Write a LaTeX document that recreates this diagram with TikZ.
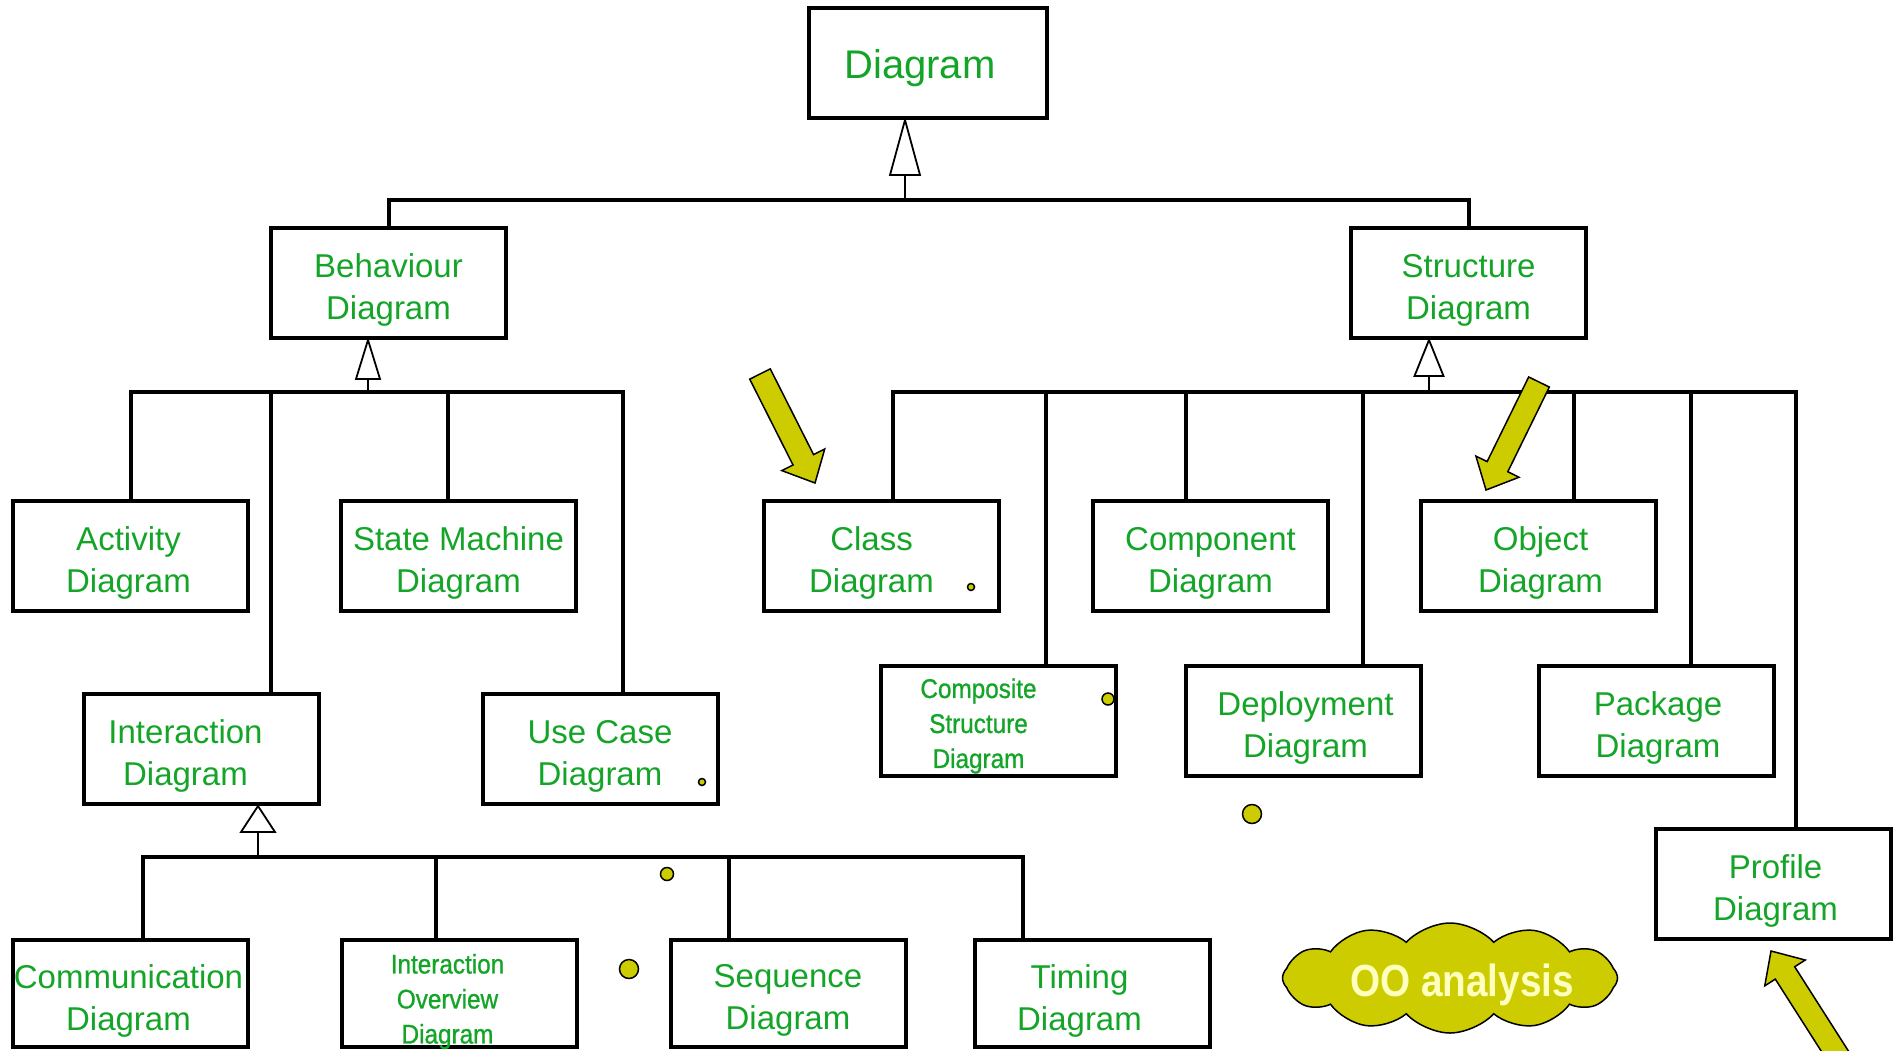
\documentclass[tikz,border=0pt]{standalone}
\usepackage{fontspec}
\setmainfont{Liberation Sans}
\newfontfamily\narrowfont[FakeStretch=0.9,FakeBold=1]{Liberation Sans}
\newfontfamily\cloudfont[FakeStretch=0.86]{Liberation Sans}
\usetikzlibrary{calc,shapes.symbols}
\definecolor{ylw}{RGB}{204,204,0}
\definecolor{txtg}{RGB}{20,165,40}
\definecolor{cloudtxt}{RGB}{255,255,190}
\newcommand{\blockarrow}[1]{%
  \coordinate (#1H) at ($(#1p)!26pt!(#1t)$);
  \draw[blk] ($(#1t)!11.5pt!90:(#1p)$) -- ($(#1H)!11.5pt!90:(#1p)$) -- ($(#1H)!24pt!90:(#1p)$) -- (#1p)
    -- ($(#1H)!24pt!-90:(#1p)$) -- ($(#1H)!11.5pt!-90:(#1p)$) -- ($(#1t)!11.5pt!-90:(#1p)$) -- cycle;}
\begin{document}
\begin{tikzpicture}[x=1pt,y=-1pt,
  box/.style={draw=black, line width=4pt, minimum width=235pt, minimum height=110pt, inner sep=0pt},
  lowbox/.style={box, minimum height=107pt},
  boxtext/.style={align=center, text=txtg, inner sep=0pt, font=\fontsize{33}{42}\selectfont, yshift=-7pt},
  narrowtext/.style={align=center, text=txtg, inner sep=0pt, font=\narrowfont\fontsize{27}{35}\selectfont, yshift=-5pt},
  conn/.style={line width=4pt, line join=miter},
  stem/.style={line width=2.5pt},
  gen/.style={draw=black, fill=white, line width=1.8pt, line join=miter},
  dot/.style={fill=ylw, draw=black, line width=1.5pt},
  blk/.style={fill=ylw, draw=black, line width=1.5pt, line join=miter}]
\useasboundingbox (0,0) rectangle (1898,1050);
\clip (0,0) rectangle (1898,1050);

% ---------- nodes ----------
\node[box, minimum width=238pt, label={[boxtext, font=\fontsize{40}{48}\selectfont, xshift=-8pt, yshift=2pt]center:Diagram}] (diag) at (928,63) {};
\node[box, label={[boxtext]center:Behaviour\\Diagram}] (beh) at (388.5,283) {};
\node[box, label={[boxtext]center:Structure\\Diagram}] (str) at (1468.5,283) {};

\node[box, label={[boxtext, xshift=-2pt]center:Activity\\Diagram}] (act) at (130.5,556) {};
\node[box, label={[boxtext]center:State Machine\\Diagram}] (sm)  at (458.5,556) {};
\node[box, label={[boxtext, xshift=-16pt]center:Interaction\\Diagram}] (inter) at (201.5,749) {};
\node[box, label={[boxtext]center:Use Case\\Diagram}] (uc) at (600,749) {};

\node[box, label={[boxtext, xshift=-10pt]center:Class\\Diagram}] (cls)  at (881.5,556) {};
\node[box, label={[boxtext]center:Component\\Diagram}] (comp) at (1210.5,556) {};
\node[box, label={[boxtext, xshift=2pt]center:Object\\Diagram}] (obj)  at (1538.5,556) {};
\node[box, label={[narrowtext, xshift=-20pt]center:Composite\\Structure\\Diagram}] (cs) at (998.5,721) {};
\node[box, label={[boxtext, xshift=2pt]center:Deployment\\Diagram}] (dep) at (1303.5,721) {};
\node[box, label={[boxtext, xshift=2pt]center:Package\\Diagram}] (pkg) at (1656,721) {};
\node[box, label={[boxtext, xshift=2pt]center:Profile\\Diagram}] (prof) at (1773.5,884) {};

\node[lowbox, label={[boxtext, xshift=-2pt]center:Communication\\Diagram}] (comm) at (130.5,993.5) {};
\node[lowbox, label={[narrowtext, xshift=-12pt, yshift=-3pt]center:Interaction\\Overview\\Diagram}] (io) at (459.5,993.5) {};
\node[lowbox, label={[boxtext]center:Sequence\\Diagram}] (seq) at (788,993.5) {};
\node[lowbox, label={[boxtext, xshift=-13pt]center:Timing\\Diagram}] (tim) at (1092.5,993.5) {};

% ---------- bus coordinates ----------
\coordinate (topbus) at (0,200);
\coordinate (bb) at (0,392);
\coordinate (sb) at (0,392);
\coordinate (ib) at (0,857);
\coordinate (tD) at (905,0);
\coordinate (tB) at (368,0);
\coordinate (tS) at (1429,0);
\coordinate (tI) at (258,0);
\coordinate (dInter) at (271,0);
\coordinate (dSm) at (448,0);
\coordinate (dUc) at (623,0);
\coordinate (dCls) at (893,0);
\coordinate (dCs) at (1046,0);
\coordinate (dComp) at (1186,0);
\coordinate (dDep) at (1363,0);
\coordinate (dObj) at (1574,0);
\coordinate (dPkg) at (1691,0);
\coordinate (dProf) at (1796,0);
\coordinate (dComm) at (143,0);
\coordinate (dIo) at (436,0);
\coordinate (dSeq) at (729,0);
\coordinate (dTim) at (1023,0);

% ---------- connectors ----------
\draw[conn] (beh.north) -- (beh.north |- topbus) -- (str.north |- topbus) -- (str.north);
\draw[stem] ($(diag.south -| tD)+(0,55)$) -- (topbus -| tD);
\draw[gen] (diag.south -| tD) -- ++(-15,55) -- ++(30,0) -- cycle;

\draw[conn] (act.north) -- (act.north |- bb) -- (bb -| dUc) -- (uc.north -| dUc);
\draw[conn] (bb -| dInter) -- (inter.north -| dInter);
\draw[conn] (bb -| dSm) -- (sm.north -| dSm);
\draw[stem] ($(beh.south -| tB)+(0,39)$) -- (bb -| tB);
\draw[gen] (beh.south -| tB) -- ++(-12,39) -- ++(24,0) -- cycle;

\draw[conn] (cls.north -| dCls) -- (sb -| dCls) -- (sb -| dProf) -- (prof.north -| dProf);
\draw[conn] (sb -| dCs) -- (cs.north -| dCs);
\draw[conn] (sb -| dComp) -- (comp.north -| dComp);
\draw[conn] (sb -| dDep) -- (dep.north -| dDep);
\draw[conn] (sb -| dObj) -- (obj.north -| dObj);
\draw[conn] (sb -| dPkg) -- (pkg.north -| dPkg);
\draw[stem] ($(str.south -| tS)+(0,36)$) -- (sb -| tS);
\draw[gen] (str.south -| tS) -- ++(-14.5,36) -- ++(29,0) -- cycle;

\draw[conn] (comm.north -| dComm) -- (ib -| dComm) -- (ib -| dTim) -- (tim.north -| dTim);
\draw[conn] (ib -| dIo) -- (io.north -| dIo);
\draw[conn] (ib -| dSeq) -- (seq.north -| dSeq);
\draw[stem] ($(inter.south -| tI)+(0,26)$) -- (ib -| tI);
\draw[gen] (inter.south -| tI) -- ++(-17,26) -- ++(34,0) -- cycle;

% ---------- dots ----------
\draw[dot] (971,587) circle (3.5);
\draw[dot] (1108,699) circle (6);
\draw[dot] (702,782) circle (3.5);
\draw[dot] (1252,814) circle (9.5);
\draw[dot] (667,874) circle (6.5);
\draw[dot] (629,969) circle (9.5);

% ---------- block arrows ----------
\coordinate (aat) at (760,374);  \coordinate (aap) at (815,483);
\blockarrow{aa}
\coordinate (abt) at (1539,382); \coordinate (abp) at (1486,490);
\blockarrow{ab}
\coordinate (act2t) at (1852,1078); \coordinate (act2p) at (1771,951);
\blockarrow{act2}

% ---------- cloud ----------
\node[cloud, cloud puffs=12, cloud puff arc=95, aspect=3.2, fill=ylw, draw=black, line width=1.5pt,
      minimum width=335pt, minimum height=110pt, inner sep=0pt] (cloud) at (1450,978) {};
\node[font=\cloudfont\bfseries\fontsize{45}{45}\selectfont, text=cloudtxt] (oo) at (1462,985) {OO analysis};
\end{tikzpicture}
\end{document}
